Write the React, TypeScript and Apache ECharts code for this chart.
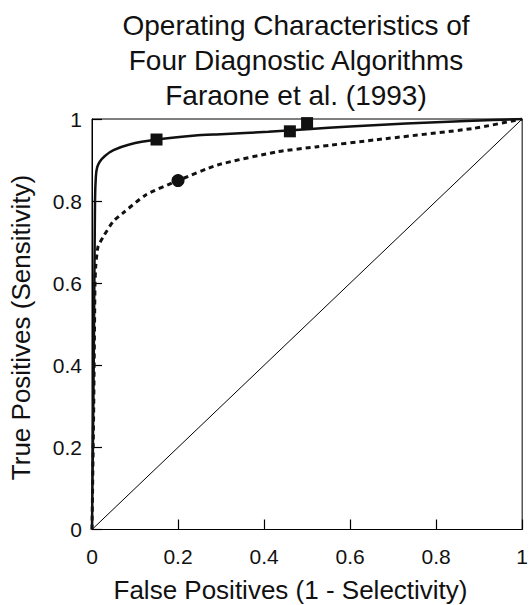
import React, { useEffect, useRef } from "react";
import * as echarts from "echarts";

const titleLines = ["Operating Characteristics of", "Four Diagnostic Algorithms", "Faraone et al. (1993)"];
const xAxisName = "False Positives (1 - Selectivity)";
const yAxisName = "True Positives (Sensitivity)";

const solidCurve: [number, number][] = [
  [0, 0], [0.004, 0.4], [0.007, 0.8], [0.009, 0.86], [0.012, 0.882], [0.018, 0.896], [0.03, 0.91], [0.05, 0.924],
  [0.087, 0.938], [0.15, 0.95], [0.24, 0.96], [0.3, 0.963], [0.41, 0.969], [0.5, 0.975],
  [0.6, 0.982], [0.73, 0.989], [0.87, 0.995], [1, 1],
];
const dashedCurve: [number, number][] = [
  [0, 0], [0.004, 0.3], [0.007, 0.6], [0.009, 0.645], [0.014, 0.689], [0.026, 0.713],
  [0.049, 0.75], [0.071, 0.77], [0.125, 0.815], [0.2, 0.85], [0.292, 0.888], [0.43, 0.92],
  [0.52, 0.932], [0.657, 0.949], [0.886, 0.977], [1, 1],
];
const chanceLine: [number, number][] = [[0, 0], [1, 1]];
const squarePoints: [number, number][] = [[0.15, 0.95], [0.46, 0.97], [0.5, 0.99]];
const circlePoints: [number, number][] = [[0.2, 0.85]];

const FONT = "'Liberation Sans', Arial, Helvetica, sans-serif";
const INK = "#111";
const TICK_LEN = 10;

export default function App() {
  const ref = useRef<HTMLDivElement>(null);
  useEffect(() => {
    if (!ref.current) return;
    const chart = echarts.init(ref.current, null, { renderer: "svg" });
    const axisCommon = {
      type: "value" as const,
      min: 0,
      max: 1,
      interval: 0.2,
      axisLine: { show: true, onZero: false, lineStyle: { color: "#000", width: 1 } },
      axisTick: { show: true, inside: true, length: TICK_LEN, lineStyle: { color: "#000", width: 1.2 } },
      splitLine: { show: false },
    };
    chart.setOption({
      animation: false,
      backgroundColor: "#fff",
      grid: {
        left: 92, right: 1, top: 119, bottom: 75.5,
        show: true, borderColor: "#000", borderWidth: 1, backgroundColor: "transparent",
      },
      xAxis: {
        ...axisCommon,
        axisLabel: {
          fontFamily: FONT, fontSize: 21, color: INK, margin: 16,
          alignMinLabel: "center", alignMaxLabel: "center",
          formatter: (v: number) => (Math.round(v * 10) / 10).toString(),
        },
      },
      yAxis: {
        ...axisCommon,
        axisLabel: {
          fontFamily: FONT, fontSize: 21, color: INK, margin: 10,
          formatter: (v: number) => (Math.round(v * 10) / 10).toString(),
        },
      },
      graphic: [
        ...titleLines.map((t, i) => ({
          type: "text",
          x: 296,
          y: [25.5, 60.5, 95][i],
          style: { text: t, fontFamily: FONT, fontSize: 28, fill: INK, align: "center", verticalAlign: "middle" },
        })),
        {
          type: "text", x: 290.5, y: 589.5,
          style: { text: xAxisName, fontFamily: FONT, fontSize: 26, fill: INK, align: "center", verticalAlign: "middle" },
        },
        {
          type: "text", x: 21, y: 327.5, rotation: Math.PI / 2,
          style: { text: yAxisName, fontFamily: FONT, fontSize: 26, fill: INK, align: "center", verticalAlign: "middle" },
        },
      ],
      series: [
        {
          type: "line", data: chanceLine, showSymbol: false, silent: true,
          lineStyle: { color: "#000", width: 1 },
        },
        {
          type: "line", data: dashedCurve, showSymbol: false, silent: true, smooth: 0.2,
          lineStyle: { color: INK, width: 3, type: [5, 4] },
        },
        {
          type: "line", data: solidCurve, showSymbol: false, silent: true, smooth: 0.2,
          lineStyle: { color: INK, width: 2.5 },
        },
        {
          type: "scatter", data: squarePoints, symbol: "rect", symbolSize: 12,
          itemStyle: { color: INK, opacity: 1 },
        },
        {
          type: "scatter", data: circlePoints, symbol: "circle", symbolSize: 13,
          itemStyle: { color: INK, opacity: 1 },
        },
      ],
    });
    return () => chart.dispose();
  }, []);
  return (
    <div
      ref={ref}
      style={{ position: "fixed", left: 0, top: 0, width: 531, height: 605, background: "#fff" }}
    />
  );
}
